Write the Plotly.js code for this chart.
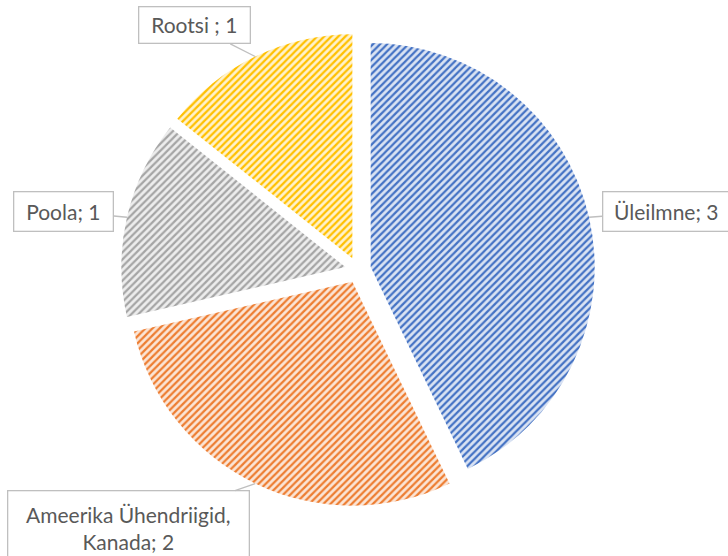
<!DOCTYPE html>
<html>
<head>
<meta charset="utf-8">
<script src="https://cdn.plot.ly/plotly-3.0.1.min.js"></script>
<style>html,body{margin:0;padding:0;background:#fff;}#chart{width:728px;height:556px;}</style>
</head>
<body>
<div id="chart"></div>
<script>
// ---- data ----
var categories = ["Üleilmne", "Ameerika Ühendriigid, Kanada", "Poola", "Rootsi"];
var labelTexts = ["Üleilmne; 3", "Ameerika Ühendriigid,<br>Kanada; 2", "Poola; 1", "Rootsi ; 1"];
var values = [3, 2, 1, 1];

// ---- styles ----
var fgColors = ["#4472C4", "#ED7D31", "#A5A5A5", "#FFC000"];
var bgColors = ["#DAE3F3", "#FBE5D6", "#EDEDED", "#FFF2CC"];
var W = 728, H = 556;
var cxPx = 358, cyPx = 270, rPx = 224, pull = 0.058;
var half = rPx * (1 + pull);
// label box offsets (px) from the slice tip, and box sizes
var boxOffsets = [[77, -6], [-127, 45], [-63, -6], [-61, -31]];
var boxSizes = [[124, 36], [238, 72], [96, 36], [108, 33]];

var total = values.reduce(function(a, b){ return a + b; }, 0);
var cum = 0;
var annotations = [];
for (var i = 0; i < values.length; i++) {
  var mid = (cum + values[i] / 2) / total * 2 * Math.PI;
  cum += values[i];
  var tx = cxPx + half * Math.sin(mid);
  var ty = cyPx - half * Math.cos(mid);
  annotations.push({
    x: tx / W, y: 1 - ty / H, xref: "paper", yref: "paper",
    text: labelTexts[i],
    showarrow: true, arrowhead: 0, arrowwidth: 1.3, arrowcolor: "#BFBFBF",
    ax: boxOffsets[i][0], ay: boxOffsets[i][1],
    width: boxSizes[i][0], height: boxSizes[i][1],
    bordercolor: "#BFBFBF", borderwidth: 1.3, bgcolor: "#FFFFFF",
    font: {family: "Lato, 'Open Sans', sans-serif", size: 21, color: "#595959"},
    align: "center", valign: "middle"
  });
}

var trace = {
  type: "pie",
  labels: categories,
  values: values,
  sort: false,
  direction: "clockwise",
  rotation: 0,
  pull: [pull, pull, pull, pull],
  textinfo: "none",
  hoverinfo: "label+value",
  showlegend: false,
  marker: {
    colors: fgColors,
    line: {width: 0},
    pattern: {shape: "/", fgcolor: fgColors, bgcolor: bgColors, size: 5, solidity: 0.45}
  },
  domain: {
    x: [(cxPx - half) / W, (cxPx + half) / W],
    y: [1 - (cyPx + half) / H, 1 - (cyPx - half) / H]
  }
};

var layout = {
  width: W, height: H,
  margin: {l: 0, r: 0, t: 0, b: 0},
  paper_bgcolor: "#FFFFFF",
  showlegend: false,
  annotations: annotations
};

Plotly.newPlot("chart", [trace], layout, {staticPlot: true});
</script>
</body>
</html>
